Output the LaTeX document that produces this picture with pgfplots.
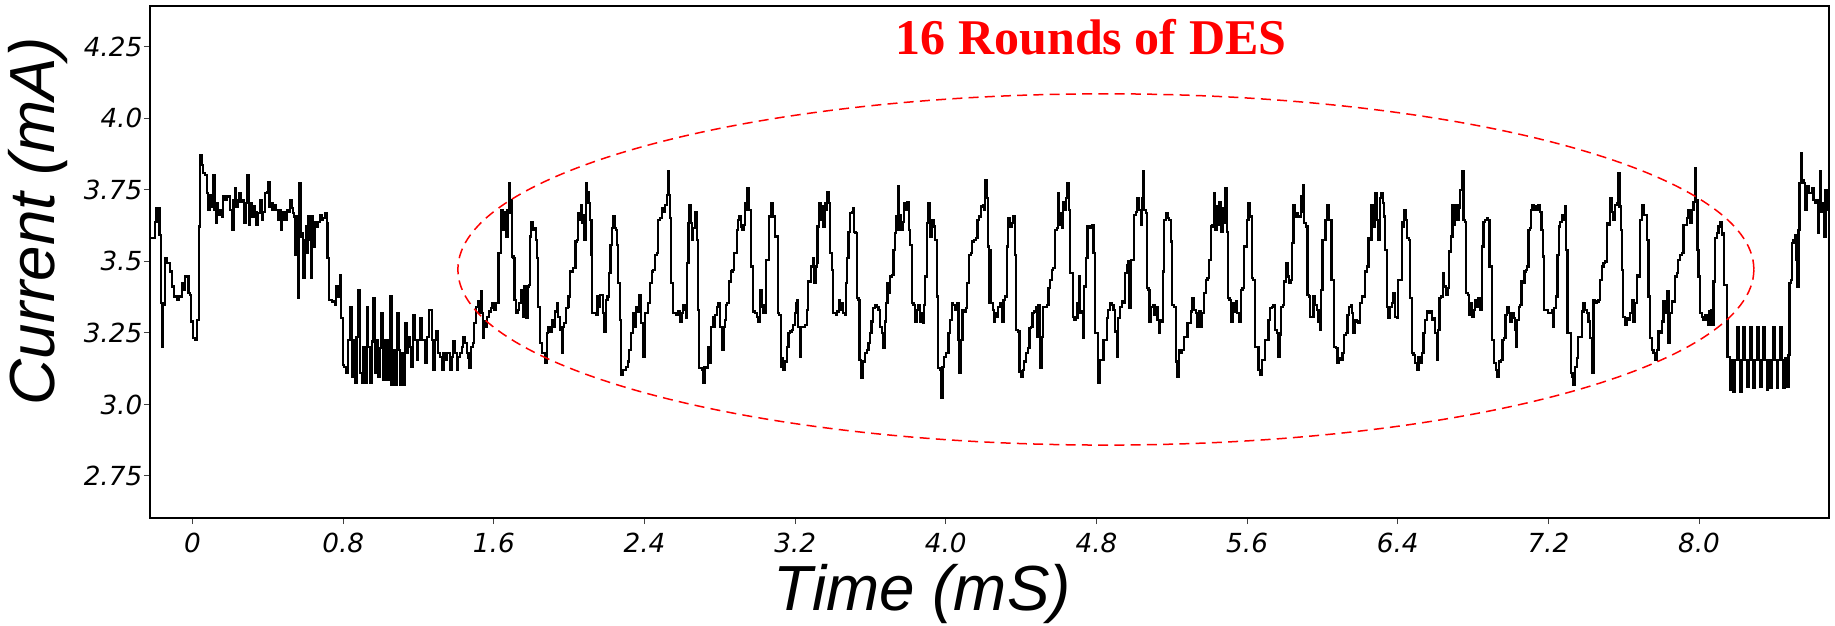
\documentclass[border=0pt]{standalone}
\usepackage{fontspec}
\usepackage{pgfplots}
\pgfplotsset{compat=1.18}
\newfontfamily\tickfont{DejaVu Sans}
\newfontfamily\labelfont{Liberation Sans}
\newfontfamily\titlefont{Liberation Serif}

\begin{document}
\begin{tikzpicture}
% page = 1835 x 625 px at 0.4pt per px, axis box at the origin
\path[use as bounding box] (-60pt,-42.8pt) rectangle (674pt,207.2pt);
\begin{axis}[
    scale only axis,
    width=671.6pt, height=204.8pt,
    xmin=-0.226, xmax=8.69,
    ymin=2.603, ymax=4.393,
    clip mode=individual,
    axis line style={line width=0.8pt},
    tick pos=left,
    tick align=outside,
    major tick length=2.4pt,
    every tick/.style={black!75, line width=0.4pt},
    xtick={0,0.8,1.6,2.4,3.2,4,4.8,5.6,6.4,7.2,8},
    xticklabels={0,0.8,1.6,2.4,3.2,4.0,4.8,5.6,6.4,7.2,8.0},
    ytick={2.75,3,3.25,3.5,3.75,4,4.25},
    yticklabels={2.75,3.0,3.25,3.5,3.75,4.0,4.25},
    ticklabel style={font=\tickfont\itshape\fontsize{10.5}{12}\selectfont},
    yticklabel style={inner sep=0.5pt},
]

\addplot[black, line width=0.9pt, const plot] coordinates {
(-0.226,3.581) (-0.199,3.639) (-0.191,3.686) (-0.176,3.593) (-0.169,3.354) (-0.159,3.202) (-0.155,3.348) (-0.146,3.511) (-0.138,3.494) (-0.120,3.465) (-0.111,3.412) (-0.099,3.377) (-0.084,3.366) (-0.070,3.377) (-0.058,3.424) (-0.049,3.400) (-0.040,3.447) (-0.031,3.447) (-0.022,3.389) (-0.014,3.383) (-0.010,3.290) (0.001,3.232) (0.013,3.226) (0.022,3.296) (0.031,3.296)
(0.036,3.622) (0.040,3.873) (0.048,3.838) (0.057,3.808) (0.066,3.803) (0.075,3.739) (0.084,3.680) (0.093,3.733) (0.101,3.692) (0.110,3.803) (0.116,3.680) (0.123,3.634) (0.128,3.704) (0.137,3.663) (0.146,3.680) (0.155,3.657) (0.163,3.727) (0.172,3.715) (0.181,3.727) (0.190,3.727) (0.199,3.680) (0.208,3.610) (0.217,3.715) (0.225,3.756) (0.231,3.692) (0.238,3.715) (0.248,3.739) (0.255,3.709) (0.266,3.715) (0.273,3.634) (0.282,3.704) (0.291,3.803) (0.298,3.628) (0.305,3.704) (0.314,3.657) (0.323,3.692) (0.332,3.674) (0.340,3.628) (0.349,3.669) (0.358,3.715) (0.367,3.645) (0.376,3.674) (0.385,3.739) (0.394,3.744) (0.402,3.779) (0.408,3.692) (0.415,3.704) (0.424,3.680) (0.432,3.698) (0.443,3.680) (0.452,3.645) (0.461,3.680) (0.468,3.610) (0.473,3.645) (0.482,3.674) (0.491,3.645) (0.500,3.680) (0.509,3.674) (0.517,3.715) (0.526,3.686) (0.535,3.669) (0.540,3.657) (0.546,3.523) (0.553,3.657) (0.558,3.371) (0.565,3.773) (0.574,3.587) (0.583,3.599) (0.588,3.441) (0.594,3.575) (0.601,3.622) (0.606,3.529) (0.615,3.657) (0.624,3.575) (0.631,3.441) (0.636,3.657) (0.641,3.552) (0.650,3.639) (0.659,3.622) (0.668,3.639) (0.677,3.663) (0.686,3.645) (0.694,3.651) (0.703,3.669) (0.712,3.634) (0.717,3.511) (0.724,3.366) (0.739,3.360) (0.748,3.360) (0.756,3.348) (0.762,3.412) (0.774,3.377) (0.783,3.453) (0.788,3.301) (0.797,3.138) (0.806,3.132) (0.818,3.109) (0.827,3.226) (0.836,3.342) (0.845,3.097) (0.854,3.226) (0.863,3.074) (0.871,3.237) (0.880,3.400) (0.889,3.109) (0.898,3.074) (0.907,3.202) (0.916,3.074) (0.925,3.342) (0.933,3.202) (0.942,3.074) (0.951,3.220) (0.960,3.371) (0.969,3.109) (0.978,3.226) (0.986,3.097) (0.995,3.197) (1.004,3.319) (1.013,3.086) (1.022,3.226) (1.031,3.086) (1.040,3.226) (1.048,3.377) (1.057,3.068) (1.066,3.191) (1.075,3.068) (1.084,3.319) (1.093,3.191) (1.102,3.068) (1.110,3.179) (1.119,3.068) (1.128,3.284) (1.137,3.179) (1.146,3.237) (1.155,3.202) (1.163,3.132) (1.172,3.313) (1.181,3.226) (1.190,3.156) (1.199,3.226) (1.208,3.301) (1.217,3.226) (1.225,3.226) (1.234,3.144) (1.243,3.237) (1.257,3.331)
(1.261,3.331) (1.270,3.226) (1.279,3.121) (1.288,3.226) (1.296,3.255) (1.305,3.179) (1.314,3.167) (1.323,3.121) (1.332,3.179) (1.341,3.156) (1.350,3.179) (1.358,3.179) (1.367,3.121) (1.376,3.167) (1.385,3.220) (1.394,3.179) (1.403,3.121) (1.411,3.167) (1.420,3.179) (1.429,3.202) (1.438,3.237) (1.447,3.214) (1.456,3.179) (1.465,3.162) (1.470,3.127) (1.477,3.202) (1.488,3.214) (1.496,3.284) (1.505,3.342) (1.514,3.360) (1.523,3.319) (1.530,3.395) (1.535,3.319) (1.541,3.232) (1.548,3.272) (1.553,3.290) (1.558,3.272) (1.565,3.307) (1.574,3.325) (1.583,3.336) (1.592,3.354) (1.601,3.331) (1.611,3.354) (1.620,3.354) (1.624,3.529) (1.633,3.529) (1.638,3.680) (1.647,3.610) (1.656,3.674) (1.665,3.587) (1.672,3.680) (1.680,3.773) (1.686,3.669) (1.691,3.715) (1.696,3.517) (1.704,3.511) (1.709,3.366) (1.718,3.319) (1.727,3.331) (1.735,3.354) (1.744,3.400) (1.753,3.307) (1.762,3.412) (1.771,3.301) (1.778,3.412) (1.787,3.418) (1.792,3.587) (1.797,3.639) (1.806,3.610) (1.815,3.616) (1.822,3.575) (1.829,3.511) (1.836,3.342) (1.845,3.214) (1.854,3.179) (1.863,3.179) (1.872,3.144) (1.881,3.249) (1.889,3.272) (1.898,3.255) (1.907,3.296) (1.916,3.272) (1.925,3.325) (1.934,3.354) (1.942,3.307) (1.951,3.261) (1.960,3.179) (1.965,3.272) (1.974,3.284) (1.983,3.336) (1.992,3.342) (1.997,3.377) (2.004,3.465) (2.013,3.465) (2.022,3.476) (2.031,3.476) (2.034,3.570) (2.040,3.575) (2.045,3.669) (2.054,3.645) (2.061,3.698) (2.068,3.634) (2.075,3.663) (2.081,3.575) (2.088,3.773) (2.093,3.744) (2.102,3.704) (2.111,3.645) (2.118,3.523) (2.123,3.319) (2.132,3.319) (2.141,3.313) (2.150,3.377) (2.158,3.342) (2.164,3.383) (2.173,3.383) (2.181,3.319) (2.187,3.255) (2.196,3.366) (2.204,3.377) (2.213,3.459) (2.220,3.558) (2.226,3.616) (2.231,3.657) (2.240,3.616) (2.247,3.610) (2.252,3.558) (2.261,3.424) (2.270,3.296) (2.275,3.103) (2.284,3.121) (2.293,3.121) (2.302,3.132) (2.311,3.150) (2.318,3.191) (2.328,3.249) (2.337,3.319) (2.346,3.272) (2.355,3.342) (2.364,3.325) (2.373,3.383) (2.380,3.284) (2.388,3.284) (2.394,3.167) (2.403,3.319) (2.412,3.319) (2.420,3.354) (2.429,3.424) (2.438,3.465) (2.447,3.470) (2.456,3.523) (2.465,3.529) (2.473,3.645) (2.482,3.651) (2.491,3.686) (2.500,3.674) (2.509,3.698) (2.518,3.733) (2.523,3.814) (2.528,3.733) (2.535,3.651) (2.541,3.424) (2.550,3.319) (2.558,3.319) (2.567,3.313) (2.580,3.325) (2.589,3.290) (2.597,3.319) (2.606,3.348) (2.615,3.331) (2.620,3.301) (2.627,3.494) (2.633,3.634) (2.638,3.698) (2.645,3.634) (2.652,3.575) (2.659,3.616) (2.668,3.674) (2.673,3.674) (2.679,3.575) (2.684,3.331) (2.691,3.127) (2.704,3.121) (2.709,3.074) (2.718,3.132) (2.730,3.127) (2.739,3.202)
(2.748,3.144) (2.753,3.272) (2.762,3.307) (2.769,3.272) (2.775,3.313) (2.783,3.342) (2.792,3.354) (2.801,3.272) (2.810,3.191) (2.819,3.272) (2.828,3.296) (2.833,3.348) (2.840,3.354) (2.849,3.430) (2.858,3.465) (2.867,3.470) (2.875,3.529) (2.883,3.529) (2.890,3.610) (2.898,3.645) (2.904,3.657) (2.911,3.622) (2.918,3.610) (2.925,3.628) (2.934,3.704) (2.939,3.680) (2.946,3.756) (2.952,3.680) (2.960,3.680) (2.966,3.482) (2.975,3.482) (2.978,3.325) (2.987,3.319) (2.996,3.307) (3.005,3.290) (3.014,3.400) (3.022,3.342) (3.028,3.319) (3.035,3.348) (3.040,3.319) (3.045,3.505) (3.052,3.505) (3.060,3.657) (3.067,3.657) (3.072,3.704) (3.079,3.680) (3.084,3.657) (3.093,3.587) (3.102,3.587) (3.107,3.319) (3.116,3.313) (3.123,3.132) (3.130,3.162) (3.137,3.121) (3.146,3.150) (3.155,3.202) (3.164,3.249) (3.173,3.255) (3.182,3.261) (3.190,3.278) (3.199,3.319) (3.205,3.354) (3.212,3.366) (3.217,3.272) (3.226,3.167) (3.231,3.272) (3.240,3.272) (3.252,3.278) (3.261,3.331) (3.270,3.430) (3.279,3.430) (3.284,3.482) (3.293,3.511) (3.300,3.424) (3.309,3.482) (3.314,3.494) (3.318,3.622) (3.327,3.704) (3.334,3.645) (3.343,3.692) (3.350,3.622) (3.359,3.704) (3.364,3.680) (3.371,3.744) (3.380,3.704) (3.385,3.529) (3.394,3.470) (3.399,3.319) (3.406,3.319) (3.417,3.313) (3.424,3.325) (3.431,3.366) (3.438,3.331) (3.447,3.354) (3.456,3.319) (3.465,3.313) (3.470,3.424) (3.477,3.511) (3.483,3.604) (3.491,3.669) (3.500,3.674) (3.509,3.686) (3.514,3.604) (3.521,3.599) (3.527,3.371) (3.536,3.366) (3.541,3.156) (3.550,3.092) (3.559,3.150) (3.571,3.179) (3.580,3.191) (3.589,3.214) (3.598,3.249) (3.606,3.290) (3.615,3.336) (3.624,3.348) (3.633,3.342) (3.642,3.331) (3.651,3.272) (3.660,3.249) (3.668,3.197) (3.677,3.290) (3.683,3.354) (3.690,3.424) (3.698,3.389) (3.704,3.447) (3.713,3.453) (3.722,3.540) (3.730,3.599) (3.736,3.657) (3.743,3.610) (3.748,3.762) (3.753,3.663) (3.760,3.610) (3.771,3.639) (3.778,3.704) (3.789,3.680) (3.796,3.709) (3.805,3.610) (3.810,3.558) (3.819,3.354) (3.828,3.348) (3.837,3.290) (3.845,3.331) (3.854,3.348) (3.863,3.290) (3.868,3.319) (3.877,3.284) (3.883,3.348) (3.890,3.447) (3.899,3.634) (3.907,3.704) (3.916,3.587) (3.925,3.645) (3.934,3.622) (3.943,3.575) (3.952,3.377) (3.960,3.127) (3.969,3.121) (3.975,3.022) (3.982,3.132) (3.991,3.167) (4.000,3.179) (4.008,3.179) (4.014,3.249) (4.022,3.296) (4.031,3.354) (4.040,3.348) (4.049,3.331) (4.058,3.354) (4.067,3.226) (4.072,3.109) (4.079,3.226) (4.088,3.331) (4.099,3.325) (4.107,3.336) (4.114,3.424) (4.123,3.523) (4.132,3.529) (4.141,3.570) (4.150,3.575) (4.159,3.581) (4.168,3.645) (4.176,3.657) (4.185,3.692) (4.196,3.698) (4.203,3.680) (4.210,3.785) (4.217,3.721) (4.226,3.552) (4.231,3.354)
(4.235,3.540) (4.240,3.354) (4.249,3.331) (4.256,3.290) (4.263,3.319) (4.270,3.307) (4.279,3.342) (4.288,3.354) (4.297,3.290) (4.306,3.366) (4.315,3.377) (4.324,3.552) (4.332,3.651) (4.341,3.622) (4.350,3.634) (4.359,3.657) (4.366,3.523) (4.373,3.261) (4.382,3.255) (4.391,3.115) (4.400,3.097) (4.408,3.121) (4.417,3.150) (4.426,3.179) (4.435,3.197) (4.444,3.267) (4.453,3.272) (4.460,3.319) (4.469,3.325) (4.477,3.342) (4.483,3.237) (4.492,3.348) (4.501,3.127) (4.509,3.237) (4.518,3.342) (4.527,3.342) (4.536,3.348) (4.545,3.406) (4.554,3.435) (4.562,3.470) (4.571,3.476) (4.580,3.610) (4.589,3.616) (4.596,3.739) (4.603,3.628) (4.612,3.669) (4.619,3.616) (4.624,3.709) (4.633,3.680) (4.639,3.721) (4.646,3.773) (4.653,3.680) (4.660,3.459) (4.669,3.459) (4.674,3.307) (4.683,3.296) (4.692,3.301) (4.699,3.354) (4.706,3.447) (4.713,3.319) (4.722,3.325) (4.727,3.232) (4.734,3.412) (4.743,3.511) (4.752,3.622) (4.761,3.616) (4.770,3.622) (4.775,3.628) (4.784,3.529) (4.793,3.249) (4.801,3.249) (4.810,3.074) (4.819,3.156) (4.828,3.156) (4.837,3.226) (4.846,3.226) (4.855,3.301) (4.863,3.331) (4.872,3.354) (4.881,3.348) (4.890,3.331) (4.899,3.255) (4.908,3.167) (4.916,3.301) (4.925,3.342) (4.934,3.360) (4.943,3.354) (4.952,3.459) (4.961,3.488) (4.970,3.500) (4.975,3.336) (4.982,3.505) (4.993,3.505) (5.000,3.663) (5.008,3.674) (5.017,3.721) (5.026,3.680) (5.035,3.628) (5.040,3.721) (5.046,3.814) (5.053,3.680) (5.062,3.669) (5.067,3.406) (5.076,3.400) (5.081,3.290) (5.090,3.342) (5.099,3.348) (5.108,3.313) (5.115,3.342) (5.124,3.296) (5.132,3.249) (5.138,3.296) (5.145,3.290) (5.152,3.465) (5.159,3.645) (5.168,3.669) (5.177,3.651) (5.185,3.645) (5.194,3.570) (5.203,3.348) (5.212,3.342) (5.221,3.150) (5.230,3.097) (5.239,3.191) (5.247,3.179) (5.256,3.191) (5.265,3.237) (5.274,3.237) (5.283,3.284) (5.292,3.284) (5.301,3.325) (5.309,3.371) (5.318,3.331) (5.327,3.319) (5.336,3.272) (5.345,3.325) (5.354,3.272) (5.362,3.319) (5.371,3.389) (5.380,3.435) (5.389,3.441) (5.398,3.505) (5.407,3.622) (5.416,3.628) (5.424,3.739) (5.430,3.610) (5.439,3.692) (5.447,3.628) (5.453,3.709) (5.460,3.604) (5.469,3.686) (5.478,3.634) (5.483,3.756) (5.492,3.604) (5.497,3.371) (5.506,3.366) (5.513,3.290) (5.522,3.354) (5.531,3.325) (5.539,3.360) (5.548,3.319) (5.557,3.290) (5.566,3.400) (5.575,3.406) (5.584,3.552) (5.593,3.552) (5.598,3.645) (5.607,3.704) (5.612,3.657) (5.621,3.657) (5.626,3.441) (5.633,3.435) (5.642,3.202) (5.651,3.202) (5.660,3.121) (5.669,3.103) (5.678,3.156) (5.686,3.156) (5.695,3.226) (5.704,3.226) (5.713,3.296)
(5.722,3.336) (5.731,3.342) (5.740,3.348) (5.749,3.261) (5.757,3.249) (5.766,3.167) (5.772,3.243) (5.780,3.342) (5.789,3.348) (5.796,3.430) (5.805,3.494) (5.814,3.447) (5.823,3.424) (5.832,3.435) (5.839,3.564) (5.846,3.698) (5.853,3.657) (5.860,3.669) (5.867,3.657) (5.876,3.657) (5.885,3.727) (5.892,3.674) (5.899,3.768) (5.904,3.634) (5.913,3.622) (5.920,3.383) (5.929,3.377) (5.934,3.307) (5.943,3.307) (5.952,3.377) (5.961,3.348) (5.970,3.331) (5.979,3.290) (5.988,3.261) (5.991,3.400) (6.000,3.575) (6.009,3.575) (6.016,3.645) (6.023,3.698) (6.032,3.645) (6.041,3.645) (6.048,3.435) (6.055,3.435) (6.062,3.202) (6.071,3.197) (6.080,3.144) (6.088,3.162) (6.097,3.156) (6.106,3.179) (6.115,3.243) (6.124,3.249) (6.133,3.313) (6.141,3.342) (6.150,3.348) (6.157,3.319) (6.164,3.249) (6.173,3.296) (6.182,3.290) (6.191,3.284) (6.200,3.354) (6.209,3.377) (6.218,3.377) (6.226,3.465) (6.235,3.482) (6.244,3.581) (6.253,3.575) (6.260,3.698) (6.267,3.680) (6.274,3.622) (6.281,3.739) (6.288,3.645) (6.297,3.575) (6.306,3.721) (6.313,3.739) (6.320,3.704) (6.327,3.657) (6.333,3.540) (6.342,3.342) (6.350,3.301) (6.359,3.342) (6.368,3.354) (6.377,3.389) (6.386,3.307) (6.395,3.301) (6.403,3.435) (6.412,3.435) (6.421,3.639) (6.430,3.622) (6.435,3.680) (6.444,3.645) (6.451,3.581) (6.458,3.575) (6.465,3.371) (6.474,3.179) (6.483,3.173) (6.492,3.144) (6.501,3.121) (6.510,3.167) (6.519,3.144) (6.527,3.179) (6.536,3.249) (6.545,3.296) (6.554,3.325) (6.563,3.319) (6.572,3.325) (6.580,3.296) (6.589,3.301) (6.598,3.249) (6.607,3.156) (6.612,3.261) (6.621,3.371) (6.630,3.377) (6.639,3.459) (6.646,3.412) (6.655,3.383) (6.664,3.406) (6.672,3.535) (6.681,3.587) (6.690,3.698) (6.696,3.628) (6.704,3.645) (6.710,3.698) (6.717,3.645) (6.726,3.686) (6.731,3.750) (6.740,3.814) (6.749,3.645) (6.757,3.639) (6.763,3.389) (6.772,3.383) (6.779,3.313) (6.788,3.354) (6.795,3.307) (6.802,3.331) (6.811,3.366) (6.819,3.342) (6.828,3.371) (6.837,3.331) (6.846,3.552) (6.855,3.639) (6.864,3.645) (6.873,3.651) (6.881,3.645) (6.887,3.482) (6.894,3.482) (6.899,3.226) (6.908,3.226) (6.913,3.144) (6.922,3.121) (6.929,3.097) (6.938,3.150) (6.947,3.156) (6.956,3.226) (6.965,3.232) (6.972,3.313) (6.980,3.342) (6.988,3.319) (6.996,3.290) (7.005,3.319) (7.014,3.301) (7.023,3.261) (7.028,3.202) (7.035,3.296) (7.042,3.342) (7.049,3.348) (7.057,3.430) (7.064,3.424) (7.073,3.465) (7.080,3.470) (7.087,3.482) (7.094,3.610) (7.103,3.616) (7.108,3.680) (7.115,3.698) (7.124,3.680) (7.133,3.692) (7.142,3.680) (7.147,3.698) (7.156,3.674) (7.163,3.610) (7.170,3.517) (7.177,3.331) (7.188,3.331) (7.196,3.319)
(7.209,3.319) (7.218,3.331) (7.223,3.272) (7.230,3.336) (7.239,3.377) (7.248,3.523) (7.255,3.622) (7.262,3.639) (7.271,3.663) (7.280,3.645) (7.289,3.692) (7.294,3.540) (7.301,3.249) (7.310,3.249) (7.319,3.109) (7.328,3.097) (7.333,3.068) (7.342,3.132) (7.351,3.162) (7.359,3.237) (7.368,3.237) (7.377,3.325) (7.386,3.354) (7.395,3.331) (7.404,3.319) (7.413,3.290) (7.421,3.232) (7.430,3.109) (7.439,3.366) (7.448,3.354) (7.457,3.360) (7.466,3.366) (7.475,3.435) (7.483,3.482) (7.492,3.494) (7.501,3.500) (7.510,3.634) (7.519,3.628) (7.528,3.721) (7.536,3.674) (7.545,3.645) (7.554,3.698) (7.563,3.704) (7.572,3.808) (7.577,3.692) (7.584,3.610) (7.590,3.470) (7.598,3.307) (7.607,3.278) (7.616,3.301) (7.625,3.296) (7.634,3.319) (7.643,3.366) (7.652,3.290) (7.660,3.354) (7.669,3.453) (7.678,3.447) (7.687,3.645) (7.696,3.698) (7.705,3.663) (7.713,3.663) (7.722,3.575) (7.731,3.377) (7.740,3.232) (7.749,3.191) (7.758,3.179) (7.767,3.156) (7.775,3.191) (7.784,3.255) (7.793,3.249) (7.802,3.290) (7.811,3.360) (7.820,3.319) (7.829,3.395) (7.837,3.214) (7.846,3.319) (7.855,3.360) (7.864,3.360) (7.873,3.447) (7.882,3.459) (7.890,3.505) (7.899,3.523) (7.908,3.529) (7.917,3.628) (7.926,3.628) (7.935,3.651) (7.944,3.680) (7.952,3.634) (7.961,3.680) (7.970,3.709) (7.977,3.826) (7.982,3.715) (7.991,3.540) (7.997,3.447) (8.006,3.319) (8.014,3.307) (8.023,3.296) (8.032,3.313) (8.041,3.296) (8.050,3.278) (8.055,3.325) (8.062,3.331) (8.069,3.278) (8.076,3.430) (8.085,3.581) (8.094,3.599) (8.103,3.622) (8.112,3.639) (8.121,3.593) (8.129,3.599) (8.133,3.418) (8.142,3.418) (8.147,3.296)
(8.151,3.167) (8.165,3.051) (8.174,3.156) (8.183,3.045) (8.192,3.156) (8.200,3.272) (8.209,3.156) (8.218,3.045) (8.227,3.156) (8.236,3.272) (8.245,3.156) (8.254,3.063) (8.262,3.156) (8.271,3.272) (8.280,3.156) (8.289,3.057) (8.298,3.156) (8.307,3.272) (8.315,3.156) (8.324,3.063) (8.333,3.156) (8.342,3.272) (8.351,3.156) (8.360,3.051) (8.368,3.156) (8.377,3.057) (8.386,3.156) (8.395,3.272) (8.404,3.156) (8.413,3.057) (8.421,3.156) (8.430,3.272) (8.439,3.156) (8.448,3.057) (8.457,3.162) (8.466,3.063) (8.475,3.173)
(8.480,3.424) (8.487,3.435) (8.492,3.564) (8.501,3.575) (8.510,3.593) (8.515,3.505) (8.522,3.412) (8.528,3.610) (8.533,3.773) (8.540,3.878) (8.545,3.785) (8.554,3.773) (8.563,3.680) (8.572,3.762) (8.581,3.739) (8.590,3.739) (8.598,3.756) (8.607,3.715) (8.616,3.704) (8.625,3.715) (8.630,3.599) (8.636,3.704) (8.643,3.814) (8.648,3.674) (8.657,3.704) (8.664,3.587) (8.671,3.750) (8.678,3.680) (8.690,3.680)
};

\draw[red, line width=0.6pt, dash pattern=on 4pt off 2.5pt]
    (axis cs:4.850,3.472) ellipse [x radius=3.441, y radius=0.614];

\node[text=red, anchor=base, font=\titlefont\bfseries\fontsize{20}{24}\selectfont]
    at (axis cs:4.772,4.225) {16 Rounds of DES};

\node[rotate=90, anchor=center, font=\labelfont\itshape\fontsize{25.5}{30}\selectfont]
    at (rel axis cs:-0.0667,0.58) {Current (mA)};
\node[anchor=base, font=\labelfont\itshape\fontsize{25.5}{30}\selectfont]
    at (rel axis cs:0.46,-0.1816) {Time (mS)};
\end{axis}
\end{tikzpicture}
\end{document}
